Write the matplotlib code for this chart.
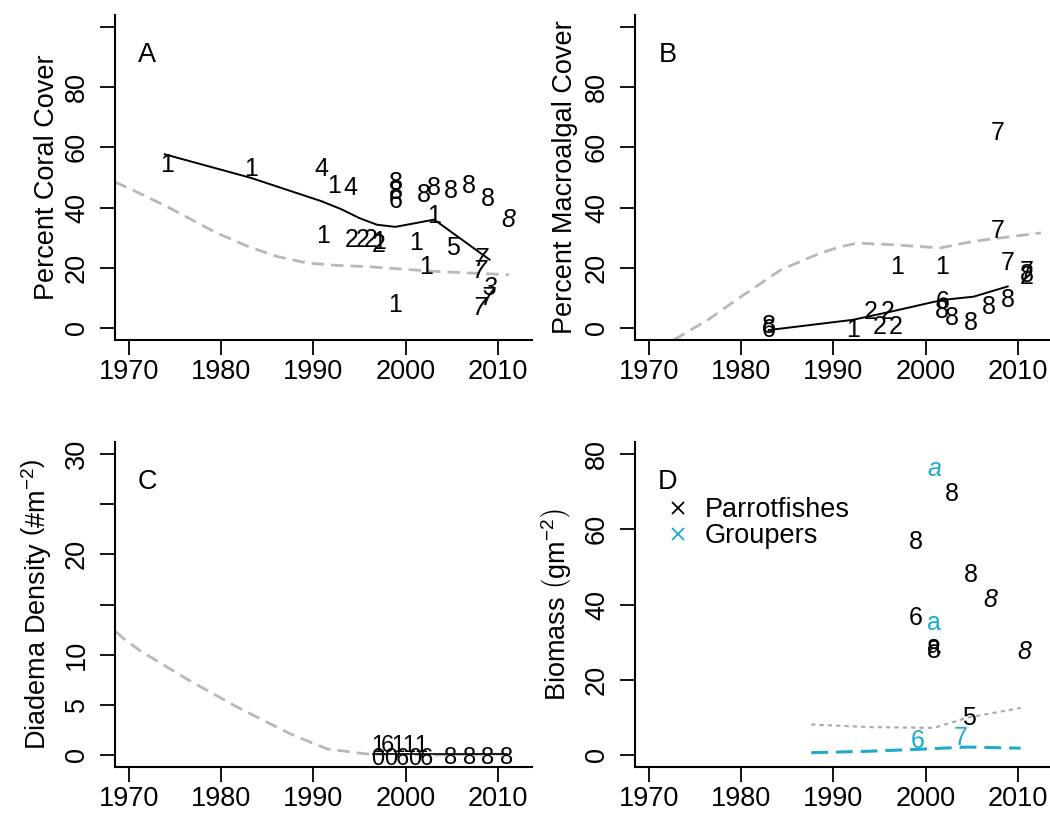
import matplotlib
matplotlib.use("Agg")
import matplotlib.pyplot as plt
from matplotlib.lines import Line2D

plt.rcParams['font.family'] = ['Liberation Sans', 'DejaVu Sans']
plt.rcParams['mathtext.fontset'] = 'custom'
plt.rcParams['mathtext.rm'] = 'Liberation Sans'
plt.rcParams['mathtext.it'] = 'Liberation Sans:italic'

CYAN = '#1faacb'
GREY = '#b8b8b8'

# ---- Panel A: coral cover, site labels ----
a_year = [1974.1, 1983.2, 1990.9, 1992.2, 1994.0, 1998.9, 1998.9, 1998.9, 2002.0, 2003.1,
          2004.9, 2006.9, 2008.9, 2011.1, 2003.1, 1991.1, 1994.2, 1995.3, 1996.2, 1997.1,
          1997.1, 2001.1, 2005.1, 2002.2, 2008.1, 2008.0, 2009.1, 2008.9, 2008.0, 1998.9]
a_cover = [54.3, 52.7, 52.7, 47.1, 46.6, 48.2, 45.2, 42.1, 44.3, 46.6,
           45.4, 47.1, 42.7, 36.0, 37.1, 30.4, 29.3, 29.3, 29.3, 28.7,
           27.7, 28.2, 26.6, 20.4, 23.0, 19.0, 13.2, 9.9, 6.6, 7.7]
a_site = ['1', '1', '4', '1', '4', '8', '8', '6', '8', '8',
          '8', '8', '8', '8', '1', '1', '2', '2', '2', '1',
          '2', '1', '5', '1', '7', '7', '3', '7', '7', '1']
a_italic = [False] * 13 + [True] + [False] * 10 + [True, True, True, True, True, False]
a_fit_year = [1973.9, 1983.2, 1990.9, 1993.0, 1995.0, 1996.9, 1998.9, 2001.0, 2003.1, 2009.1]
a_fit = [57.7, 49.9, 42.1, 39.5, 36.5, 34.3, 33.6, 34.8, 36.0, 22.7]
a_ref_year = [1968.5, 1970.3, 1974.1, 1979.5, 1983.0, 1986.0, 1989.3, 1992.5, 1995.8, 2003.1, 2011.2]
a_ref = [48.5, 46.0, 40.4, 31.6, 27.0, 23.8, 21.6, 20.8, 20.4, 18.8, 17.7]

# ---- Panel B: macroalgal cover ----
b_year = [2007.8, 2007.8, 2008.9, 1996.9, 2001.8, 2011.0, 2011.0, 2011.0, 2008.9, 2006.9,
          2004.9, 2002.9, 2001.8, 2001.8, 1994.0, 1995.9, 1995.0, 1996.8, 1992.1, 1983.0, 1983.0]
b_cover = [64.9, 32.1, 21.6, 20.4, 20.4, 18.5, 17.5, 16.8, 9.3, 7.1,
           1.6, 3.2, 8.6, 5.8, 5.4, 5.4, 0.4, 0.4, -0.7, 0.5, -0.8]
b_site = ['7', '7', '7', '1', '1', '7', '8', '2', '8', '8',
          '8', '8', '6', '8', '2', '2', '2', '2', '1', '8', '6']
b_fit_year = [1983.0, 1992.1, 1996.2, 2001.8, 2005.2, 2008.9]
b_fit = [-0.7, 2.7, 5.4, 9.3, 10.4, 13.8]
b_ref_year = [1972.7, 1976.4, 1980.0, 1984.3, 1988.6, 1990.8, 1992.6, 1996.2, 2001.6, 2005.2, 2012.5]
b_ref = [-4.0, 2.7, 10.4, 19.3, 24.9, 27.0, 28.2, 27.7, 26.6, 28.8, 31.6]

# ---- Panel C: Diadema density ----
c_year = [1997.0, 1997.0, 1998.0, 1998.4, 1999.2, 1999.6, 2000.4, 2001.0, 2001.6, 2002.2,
          2004.9, 2006.9, 2008.9, 2010.9]
c_dens = [0.9, -0.4, 0.9, -0.4, 0.9, -0.4, 0.9, -0.4, 0.9, -0.4,
          -0.3, -0.3, -0.3, -0.3]
c_site = ['1', '0', '6', '0', '1', '6', '1', '0', '1', '6',
          '8', '8', '8', '8']
c_fit_year = [1996.5, 2003.0, 2011.0]
c_fit = [0.1, 0.1, 0.1]
c_ref_year = [1968.6, 1969.3, 1971.2, 1976.6, 1982.1, 1987.5, 1991.5, 1995.8, 2003.0, 2011.5]
c_ref = [12.3, 11.7, 10.4, 7.4, 4.6, 2.1, 0.6, 0.1, 0.0, 0.1]

# ---- Panel D: fish biomass ----
d_par_year = [2002.9, 1998.9, 2004.9, 2007.0, 1998.9, 2000.9, 2000.9, 2010.7, 2004.7]
d_par = [69.4, 56.6, 47.8, 41.3, 36.3, 29.0, 27.6, 27.5, 9.9]
d_par_site = ['8', '8', '8', '8', '6', 'a', '8', '8', '5']
d_par_italic = [False, False, False, True, False, False, False, True, False]
d_gro_year = [2000.9, 2000.9, 1999.1, 2003.8]
d_gro = [76.0, 35.0, 3.7, 4.6]
d_gro_site = ['a', 'a', '6', '7']
d_gro_italic = [True, False, False, False]
d_par_fit_year = [1987.6, 1994.0, 2000.9, 2004.5, 2010.3]
d_par_fit = [8.1, 7.4, 7.2, 9.9, 12.5]
d_gro_fit_year = [1987.6, 1994.0, 1999.1, 2004.5, 2010.3]
d_gro_fit = [0.6, 1.0, 1.5, 2.1, 1.8]

FS = 19.5
LFS = 18
fig = plt.figure(figsize=(10.5, 8.16), dpi=100)
W, H = 1050, 816
axA = fig.add_axes([115 / W, 1 - 340 / H, 417 / W, 325 / H])
axB = fig.add_axes([635 / W, 1 - 340 / H, 417 / W, 325 / H])
axC = fig.add_axes([115 / W, 1 - 767 / H, 417 / W, 325 / H])
axD = fig.add_axes([635 / W, 1 - 767 / H, 417 / W, 325 / H])


def style(ax, ylim, yticks, ylabels, letter, ylab, labx):
    ax.set_xlim(1968.5, 2013.7)
    ax.set_ylim(*ylim)
    ax.set_xticks([1970, 1980, 1990, 2000, 2010])
    ax.set_yticks(yticks)
    ax.set_yticklabels(ylabels, rotation=90, va='center')
    for s in ['top', 'right']:
        ax.spines[s].set_visible(False)
    for s in ['left', 'bottom']:
        ax.spines[s].set_linewidth(1.5)
    ax.tick_params(direction='out', length=11, width=1.3, labelsize=FS)
    ax.tick_params(axis='x', pad=3)
    ax.tick_params(axis='y', pad=7)
    ax.text(1972.0, ylim[0] + (ylim[1] - ylim[0]) * 0.878, letter, fontsize=FS,
            ha='center', va='center')
    ax.set_ylabel(ylab, fontsize=FS, va='center')
    ax.yaxis.set_label_coords(labx, 0.5)


def labels(ax, xs, ys, ss, italics=None, color='black', fs=LFS):
    for i, (x, y, s) in enumerate(zip(xs, ys, ss)):
        it = italics[i] if italics else False
        ax.text(x, y, s, fontsize=fs, color=color, ha='center', va='center',
                style='italic' if it else 'normal')


dash = (0, (4.5, 2.5))

# A
axA.plot(a_ref_year, a_ref, color=GREY, lw=2, ls=dash)
axA.plot(a_fit_year, a_fit, color='black', lw=1.4)
labels(axA, a_year, a_cover, a_site, a_italic)
style(axA, (-4, 104), [0, 20, 40, 60, 80, 100], ['0', '20', '40', '60', '80', ''],
      'A', 'Percent Coral Cover', -0.163)

# B
axB.plot(b_ref_year, b_ref, color=GREY, lw=2, ls=dash)
axB.plot(b_fit_year, b_fit, color='black', lw=1.4)
labels(axB, b_year, b_cover, b_site)
style(axB, (-4, 104), [0, 20, 40, 60, 80, 100], ['0', '20', '40', '60', '80', ''],
      'B', 'Percent Macroalgal Cover', -0.168)

# C
axC.plot(c_ref_year, c_ref, color=GREY, lw=2, ls=dash)
axC.plot(c_fit_year, c_fit, color='black', lw=1.2)
labels(axC, c_year, c_dens, c_site, fs=17)
style(axC, (-1.2, 31.2), [0, 5, 10, 15, 20, 25, 30], ['0', '5', '10', '', '20', '', '30'],
      'C', r'Diadema Density $\left(\#\mathrm{m}^{-2}\right)$', -0.19)

# D
axD.plot(d_par_fit_year, d_par_fit, color='#a8a8a8', lw=1.5, ls=(0, (2, 2)))
axD.plot(d_gro_fit_year, d_gro_fit, color=CYAN, lw=2.2, ls=(0, (5.5, 2.6)))
labels(axD, d_par_year, d_par, d_par_site, d_par_italic)
labels(axD, d_gro_year, d_gro, d_gro_site, d_gro_italic, color=CYAN)
style(axD, (-3.2, 83.2), [0, 20, 40, 60, 80], ['0', '20', '40', '60', '80'],
      'D', r'Biomass $\left(\mathrm{gm}^{-2}\right)$', -0.19)
handles = [Line2D([], [], ls='none', marker='x', color='black', ms=8, mew=1.3),
           Line2D([], [], ls='none', marker='x', color=CYAN, ms=8, mew=1.3)]
axD.legend(handles, ['Parrotfishes', 'Groupers'], loc='upper left',
           bbox_to_anchor=(0.07, 0.83), frameon=False, fontsize=FS, labelspacing=0.0,
           handlelength=1.0, handletextpad=0.5, borderpad=0, borderaxespad=0)

fig.savefig('out.png', dpi=100)
